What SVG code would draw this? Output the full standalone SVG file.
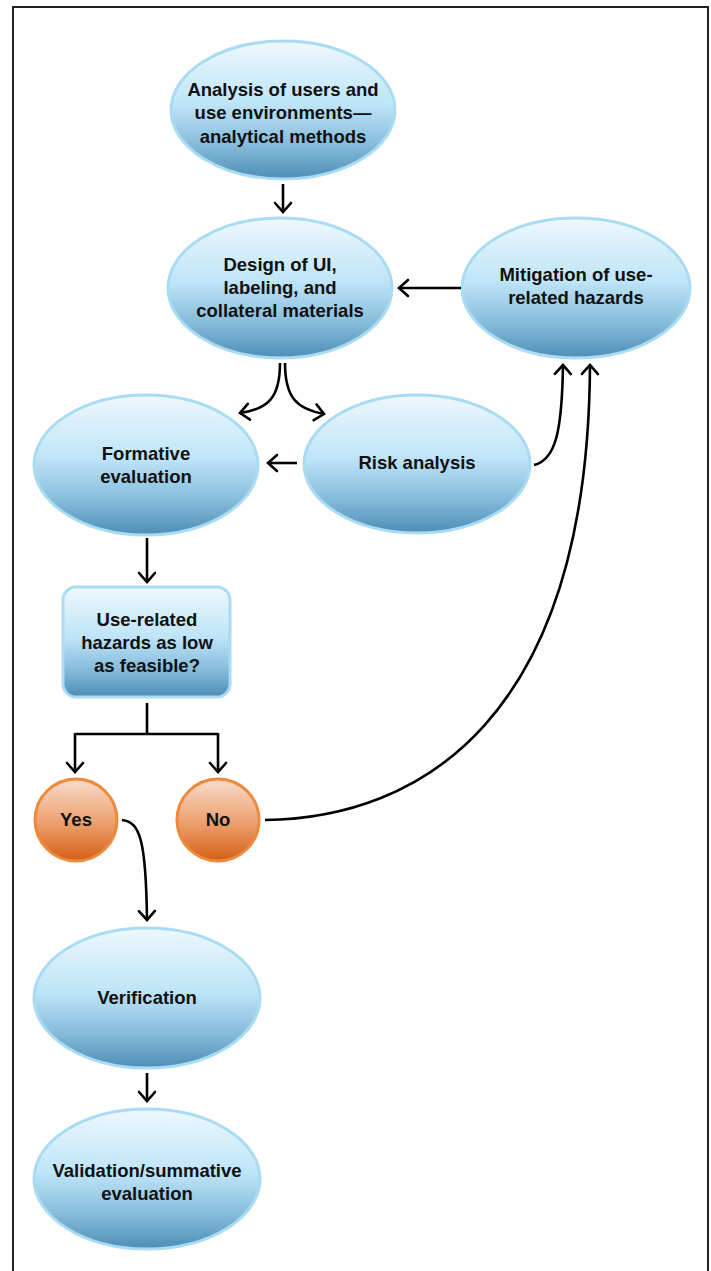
<svg xmlns="http://www.w3.org/2000/svg" width="711" height="1271" viewBox="0 0 711 1271">
<defs>
<linearGradient id="gb" x1="0" y1="0" x2="0" y2="1">
<stop offset="0" stop-color="#eef8fd"/>
<stop offset="0.45" stop-color="#bfe5f8"/>
<stop offset="0.75" stop-color="#86bcdb"/>
<stop offset="1" stop-color="#4e8db6"/>
</linearGradient>
<linearGradient id="go" x1="0" y1="0" x2="0" y2="1">
<stop offset="0" stop-color="#f8dccb"/>
<stop offset="0.5" stop-color="#eea474"/>
<stop offset="1" stop-color="#d45f16"/>
</linearGradient>
<marker id="ah" markerUnits="userSpaceOnUse" markerWidth="24" markerHeight="24" refX="12" refY="12" orient="auto" overflow="visible">
<path d="M3,4 L12,12 L3,20" fill="none" stroke="#000" stroke-width="2.6" stroke-linecap="round"/>
</marker>
<style>
.b{fill:url(#gb);stroke:#a9dcf3;stroke-width:3}
.o{fill:url(#go);stroke:#ef8a3c;stroke-width:3}
.t{font-family:"Liberation Sans",Arial,Helvetica,sans-serif;font-weight:bold;font-size:18.5px;fill:#111;text-anchor:middle}
.c{fill:none;stroke:#000;stroke-width:2.6}
</style>
</defs>
<rect width="711" height="1271" fill="#fff"/>
<path d="M13,1271 L13,7 L708,7 L708,1271" fill="none" stroke="#222" stroke-width="2"/>

<g id="n-analysis">
<ellipse class="b" cx="283" cy="110" rx="112" ry="69"/>
<text class="t" x="283" y="96">Analysis of users and</text>
<text class="t" x="283" y="119">use environments—</text>
<text class="t" x="283" y="143">analytical methods</text>
</g>
<g id="n-design">
<ellipse class="b" cx="280" cy="288" rx="112" ry="70"/>
<text class="t" x="280" y="271">Design of UI,</text>
<text class="t" x="280" y="294">labeling, and</text>
<text class="t" x="280" y="317">collateral materials</text>
</g>
<g id="n-mitigation">
<ellipse class="b" cx="576" cy="288" rx="114" ry="70"/>
<text class="t" x="576" y="281">Mitigation of use-</text>
<text class="t" x="576" y="304">related hazards</text>
</g>
<g id="n-formative">
<ellipse class="b" cx="146" cy="465" rx="112" ry="70"/>
<text class="t" x="146" y="460">Formative</text>
<text class="t" x="146" y="483">evaluation</text>
</g>
<g id="n-risk">
<ellipse class="b" cx="417" cy="464" rx="113" ry="69"/>
<text class="t" x="417" y="469">Risk analysis</text>
</g>
<g id="n-decision">
<rect class="b" x="63" y="587" width="167" height="110" rx="13" ry="13"/>
<text class="t" x="147" y="626">Use-related</text>
<text class="t" x="147" y="649">hazards as low</text>
<text class="t" x="147" y="672">as feasible?</text>
</g>
<g id="n-yes">
<circle class="o" cx="76" cy="820" r="41"/>
<text class="t" x="76" y="826">Yes</text>
</g>
<g id="n-no">
<circle class="o" cx="218" cy="820" r="41"/>
<text class="t" x="218" y="826">No</text>
</g>
<g id="n-verification">
<ellipse class="b" cx="147" cy="998" rx="113" ry="70"/>
<text class="t" x="147" y="1004">Verification</text>
</g>
<g id="n-validation">
<ellipse class="b" cx="147" cy="1179" rx="113" ry="70"/>
<text class="t" x="147" y="1177">Validation/summative</text>
<text class="t" x="147" y="1200">evaluation</text>
</g>

<g id="connectors">
<path class="c" d="M283,184 L283,212" marker-end="url(#ah)"/>
<path class="c" d="M461,288 L399,288" marker-end="url(#ah)"/>
<path class="c" d="M280,363 C280,398 268,409 240,413" marker-end="url(#ah)"/>
<path class="c" d="M285,363 C285,398 297,409 324,414" marker-end="url(#ah)"/>
<path class="c" d="M297,463 L268,463" marker-end="url(#ah)"/>
<path class="c" d="M534,465 C556,460 562,430 563,365" marker-end="url(#ah)"/>
<path class="c" d="M147,538 L147,582" marker-end="url(#ah)"/>
<path class="c" d="M147,703 L147,734 M75,734 L218,734"/>
<path class="c" d="M75,733 L75,772" marker-end="url(#ah)"/>
<path class="c" d="M218,733 L218,772" marker-end="url(#ah)"/>
<path class="c" d="M122,820 C140,822 146,840 147,920" marker-end="url(#ah)"/>
<path class="c" d="M265,820 C420,818 588,720 590,365" marker-end="url(#ah)"/>
<path class="c" d="M147,1073 L147,1101" marker-end="url(#ah)"/>
</g>
</svg>
